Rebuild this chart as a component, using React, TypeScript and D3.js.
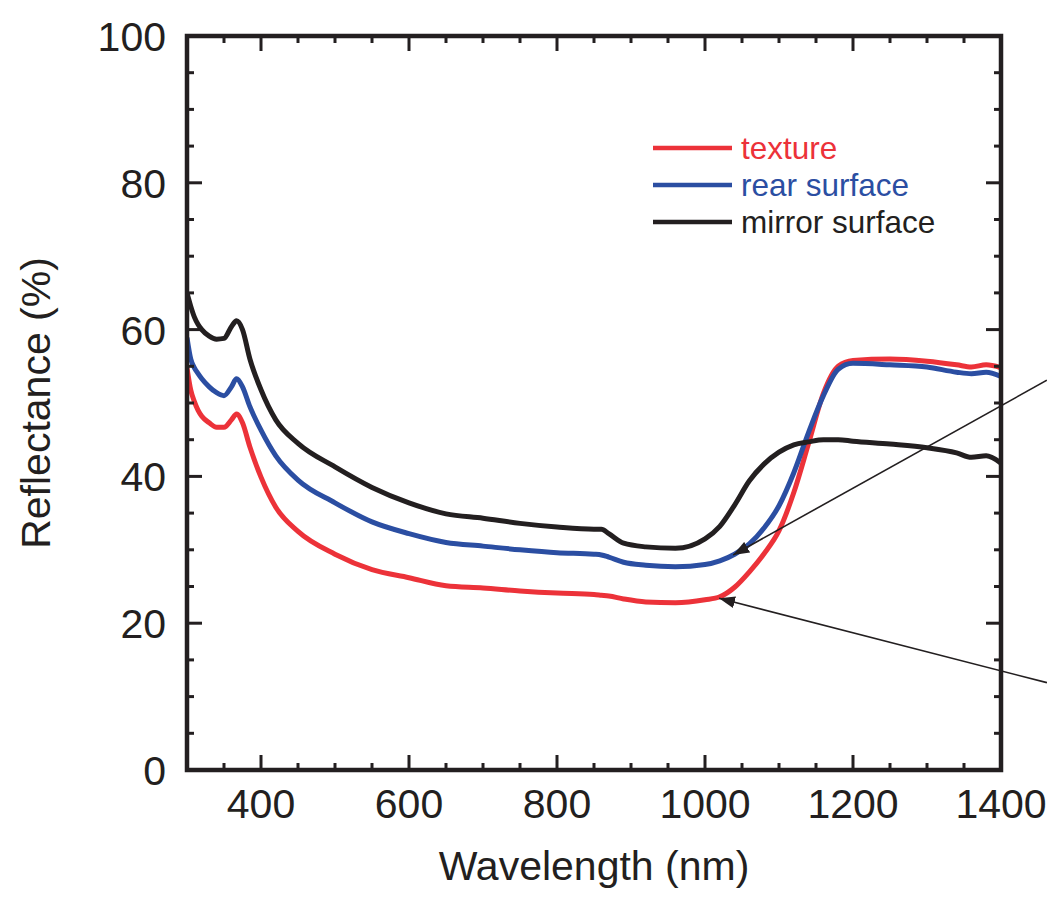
import { useRef, useEffect } from 'react';
import * as d3 from 'd3';

const W = 1047;
const H = 900;
const MARGIN = { top: 36, right: 46, bottom: 130, left: 187 };
const FONT = '"Liberation Sans", Arial, Helvetica, sans-serif';

// wavelength samples (nm)
const wavelengths = [300, 305, 310, 315, 320, 330, 340, 350, 360, 367, 375, 385, 400, 420, 450, 500, 550, 600, 650, 700, 750, 800, 850, 860, 870, 890, 920, 960, 1000, 1020, 1040, 1060, 1080, 1100, 1120, 1140, 1160, 1180, 1200, 1250, 1300, 1340, 1360, 1380, 1400];

const texture = [54.8, 51.8, 50.2, 49, 48.2, 47.3, 46.7, 46.7, 47.7, 48.5, 47.3, 44, 39.9, 35.8, 32.5, 29.4, 27.3, 26.2, 25.1, 24.8, 24.4, 24.1, 23.9, 23.8, 23.7, 23.3, 22.9, 22.8, 23.2, 23.6, 24.9, 27, 29.5, 32.6, 37.8, 44.5, 51.3, 55, 55.8, 56, 55.7, 55.2, 54.9, 55.2, 54.8];
const rearSurface = [58.9, 56, 54.8, 54, 53.3, 52.2, 51.4, 51, 52.2, 53.3, 52.2, 49.5, 46.3, 42.8, 39.5, 36.4, 33.8, 32.2, 31, 30.5, 30, 29.6, 29.4, 29.3, 29, 28.3, 27.9, 27.7, 28, 28.5, 29.4, 30.8, 33, 36, 40.5, 46, 51, 54.6, 55.4, 55.2, 54.9, 54.2, 54, 54.2, 53.6];
const mirrorSurface = [65, 63.2, 61.7, 60.7, 60, 59.1, 58.7, 58.8, 60.4, 61.2, 60, 56, 51.8, 47.7, 44.5, 41.3, 38.5, 36.4, 34.9, 34.3, 33.6, 33.1, 32.8, 32.8, 32.2, 30.9, 30.4, 30.2, 31.5, 33.2, 36.1, 39.4, 41.7, 43.3, 44.3, 44.7, 45, 45, 44.8, 44.4, 43.9, 43.2, 42.6, 42.8, 41.8];

const seriesNames = ['texture', 'rear surface', 'mirror surface'];
const seriesColors = ['#ec3239', '#2b4ea2', '#231f20'];
const seriesValues = [texture, rearSurface, mirrorSurface];

const xTicks = [400, 600, 800, 1000, 1200, 1400];
const yTicks = [0, 20, 40, 60, 80, 100];

// arrows pointing at the curves: [tail wavelength, tail R, head wavelength, head R]
const arrows = [
  [1462, 53.1, 1038, 29.3],
  [1462, 11.9, 1019, 23.4],
];

export default function App() {
  const svgRef = useRef<SVGSVGElement>(null);

  useEffect(() => {
    if (!svgRef.current) return;
    const svg = d3.select(svgRef.current);
    svg.selectAll('*').remove();

    const innerW = W - MARGIN.left - MARGIN.right;
    const innerH = H - MARGIN.top - MARGIN.bottom;
    const x = d3.scaleLinear().domain([300, 1400]).range([0, innerW]);
    const y = d3.scaleLinear().domain([0, 100]).range([innerH, 0]);

    const defs = svg.append('defs');
    defs.append('clipPath').attr('id', 'plot-clip')
      .append('rect').attr('width', innerW).attr('height', innerH);
    defs.append('marker')
      .attr('id', 'arrowhead')
      .attr('viewBox', '0 0 16 12')
      .attr('refX', 16).attr('refY', 6)
      .attr('markerWidth', 16).attr('markerHeight', 12)
      .attr('markerUnits', 'userSpaceOnUse')
      .attr('orient', 'auto')
      .append('path').attr('d', 'M0,0 L16,6 L0,12 Z').attr('fill', '#231f20');

    const g = svg.append('g').attr('transform', `translate(${MARGIN.left},${MARGIN.top})`);

    // curves
    const line = d3.line<number>()
      .x((_, i) => x(wavelengths[i]))
      .y(d => y(d))
      .curve(d3.curveMonotoneX);
    const curves = g.append('g').attr('clip-path', 'url(#plot-clip)');
    seriesValues.forEach((vals, i) => {
      curves.append('path')
        .attr('d', line(vals))
        .attr('fill', 'none')
        .attr('stroke', seriesColors[i])
        .attr('stroke-width', 5)
        .attr('stroke-linejoin', 'round');
    });

    // ticks, inward on all four sides
    const minorX = d3.range(300, 1401, 50);
    const minorY = d3.range(0, 101, 5);
    const tickCol = '#231f20';
    minorX.forEach(v => {
      const len = v % 200 === 0 ? 15 : 7;
      g.append('line').attr('x1', x(v)).attr('x2', x(v)).attr('y1', innerH).attr('y2', innerH - len)
        .attr('stroke', tickCol).attr('stroke-width', 3);
      g.append('line').attr('x1', x(v)).attr('x2', x(v)).attr('y1', 0).attr('y2', len)
        .attr('stroke', tickCol).attr('stroke-width', 3);
    });
    minorY.forEach(v => {
      const len = v % 20 === 0 ? 15 : 7;
      g.append('line').attr('y1', y(v)).attr('y2', y(v)).attr('x1', 0).attr('x2', len)
        .attr('stroke', tickCol).attr('stroke-width', 3);
      g.append('line').attr('y1', y(v)).attr('y2', y(v)).attr('x1', innerW).attr('x2', innerW - len)
        .attr('stroke', tickCol).attr('stroke-width', 3);
    });

    // frame
    g.append('rect')
      .attr('width', innerW).attr('height', innerH)
      .attr('fill', 'none').attr('stroke', tickCol).attr('stroke-width', 4.5);

    // tick labels
    xTicks.forEach(v => {
      g.append('text').attr('x', x(v)).attr('y', innerH + 48)
        .attr('text-anchor', 'middle').attr('fill', tickCol)
        .style('font-family', FONT).style('font-size', '41px')
        .text(v);
    });
    yTicks.forEach(v => {
      g.append('text').attr('x', -21).attr('y', y(v) + 15)
        .attr('text-anchor', 'end').attr('fill', tickCol)
        .style('font-family', FONT).style('font-size', '41px')
        .text(v);
    });

    // axis titles
    svg.append('text').attr('x', MARGIN.left + innerW / 2).attr('y', 880)
      .attr('text-anchor', 'middle').attr('fill', tickCol)
      .style('font-family', FONT).style('font-size', '41px')
      .text('Wavelength (nm)');
    svg.append('text')
      .attr('transform', `translate(50,${MARGIN.top + innerH / 2}) rotate(-90)`)
      .attr('text-anchor', 'middle').attr('fill', tickCol)
      .style('font-family', FONT).style('font-size', '41px')
      .text('Reflectance (%)');

    // legend
    const lg = g.append('g');
    seriesNames.forEach((name, i) => {
      const ly = 112 + i * 37;
      lg.append('line').attr('x1', 466).attr('x2', 545)
        .attr('y1', ly).attr('y2', ly)
        .attr('stroke', seriesColors[i]).attr('stroke-width', 4.5);
      lg.append('text').attr('x', 554).attr('y', ly + 11)
        .attr('fill', seriesColors[i])
        .style('font-family', FONT).style('font-size', '31.5px')
        .text(name);
    });

    // annotation arrows
    arrows.forEach(([x1, y1, x2, y2]) => {
      g.append('line')
        .attr('x1', x(x1)).attr('y1', y(y1))
        .attr('x2', x(x2)).attr('y2', y(y2))
        .attr('stroke', '#231f20').attr('stroke-width', 1.6)
        .attr('marker-end', 'url(#arrowhead)');
    });
  }, []);

  return (
    <svg
      ref={svgRef}
      width={W}
      height={H}
      style={{ position: 'absolute', left: 0, top: 0, background: '#fff' }}
    />
  );
}
